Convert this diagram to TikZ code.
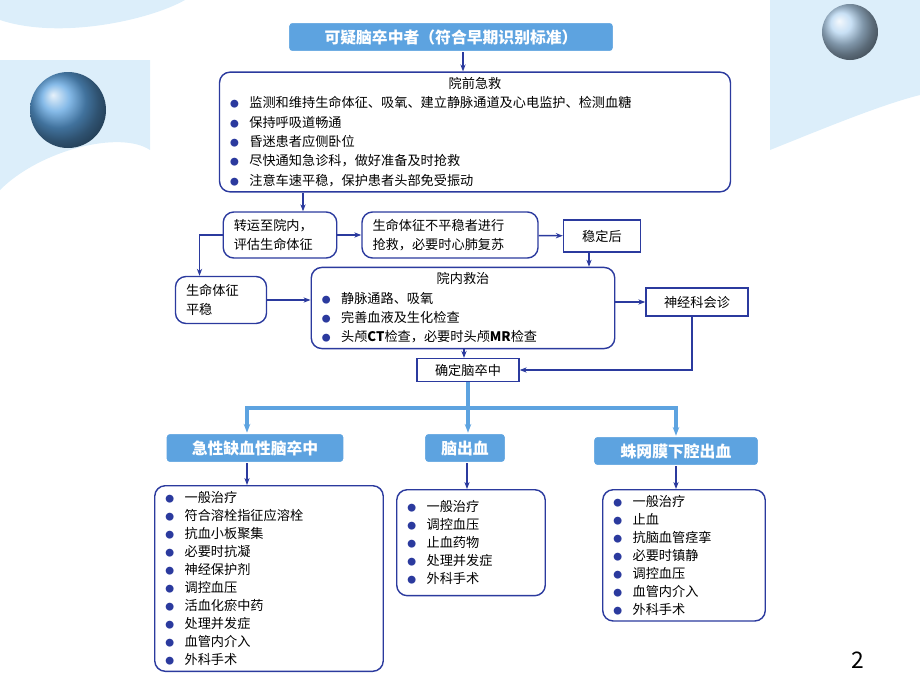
\documentclass[tikz,border=0pt]{standalone}
\usepackage{fontspec}
\setmainfont{Noto Sans CJK SC}
\usetikzlibrary{positioning,arrows.meta,calc}
\definecolor{navy}{HTML}{2B3A9E}
\definecolor{skyb}{HTML}{5DA3E0}
\definecolor{paleb}{HTML}{DCEEFA}
\newcommand{\itm}{{\color{navy}\tiny●}\hspace{0.8em}}
\tikzset{
    box/.style={rectangle, rounded corners=6pt, draw=navy, thick, fill=white, font=\fontsize{7.5}{11}\selectfont, align=left, inner xsep=6pt, inner ysep=3pt},
    sbox/.style={rectangle, draw=navy, thick, fill=white, font=\fontsize{7.5}{10.5}\selectfont, align=center, inner sep=3pt},
    head/.style={rectangle, rounded corners=2pt, fill=skyb, draw=white, thick, text=white, font=\bfseries\fontsize{9}{11}\selectfont, inner sep=4pt},
    line/.style={-{Stealth[length=4pt]}, navy, thick},
    bline/.style={-{Stealth[length=5pt]}, skyb, line width=2.2pt},
}
\begin{document}
\begin{tikzpicture}[x=0.02cm,y=-0.02cm]
    \useasboundingbox (0,0) rectangle (920,690);

    % Corner decoration
    \fill[paleb] (0,20) .. controls (60,40) and (150,20) .. (185,0) -- (0,0) -- cycle;
    \fill[paleb] (0,190) .. controls (40,150) and (120,130) .. (150,150) -- (150,60) -- (0,60) -- cycle;
    \fill[paleb] (770,150) .. controls (820,130) and (880,105) .. (920,95) -- (920,0) -- (770,0) -- cycle;
    \shade[ball color=skyb] (68,110) circle (38);
    \shade[ball color=skyb!45] (850,32) circle (28);

    % Top part
    \node[head, minimum width=6.5cm, minimum height=0.46cm] (start) at (451,37) {可疑脑卒中者（符合早期识别标准）};
    \node[box, text width=9.8cm, minimum height=2.22cm] (pre) at (475,132)
        {\makebox[\linewidth]{院前急救}\\
         \itm 监测和维持生命体征、吸氧、建立静脉通道及心电监护、检测血糖\\
         \itm 保持呼吸道畅通\\
         \itm 昏迷患者应侧卧位\\
         \itm 尽快通知急诊科，做好准备及时抢救\\
         \itm 注意车速平稳，保护患者头部免受振动};
    \node[box, text width=1.85cm, minimum height=0.92cm] (transfer) at (280,235) {转运至院内，\\评估生命体征};
    \node[box, text width=3.1cm, minimum height=0.92cm] (rescue) at (450,235) {生命体征不平稳者进行\\抢救，必要时心肺复苏};
    \node[sbox, minimum width=1.54cm, minimum height=0.64cm] (stable) at (602,236) {稳定后};
    \node[box, text width=1.4cm, minimum height=0.94cm] (vital) at (221,300) {生命体征\\平稳};
    \node[box, text width=5.65cm, minimum height=1.58cm] (inhosp) at (463,308)
        {\makebox[\linewidth]{院内救治}\\
         \itm 静脉通路、吸氧\\
         \itm 完善血液及生化检查\\
         \itm 头颅\textbf{CT}检查，必要时头颅\textbf{MR}检查};
    \node[sbox, minimum width=2.04cm, minimum height=0.56cm] (neuro) at (697,302) {神经科会诊};
    \node[sbox, minimum width=2.04cm, minimum height=0.4cm] (confirm) at (468,370) {确定脑卒中};

    % Three types
    \node[head, minimum width=3.56cm, minimum height=0.54cm] (isch) at (255,448) {急性缺血性脑卒中};
    \node[head, minimum width=1.62cm, minimum height=0.54cm] (ich) at (465,448) {脑出血};
    \node[head, minimum width=3.3cm, minimum height=0.58cm] (sah) at (676,451) {蛛网膜下腔出血};
    \node[box, font=\fontsize{7.5}{10.3}\selectfont, text width=4.15cm, minimum height=3.64cm, anchor=north] (treatA) at (269,485)
        {\itm 一般治疗\\ \itm 符合溶栓指征应溶栓\\ \itm 抗血小板聚集\\ \itm 必要时抗凝\\
         \itm 神经保护剂\\ \itm 调控血压\\ \itm 活血化瘀中药\\ \itm 处理并发症\\
         \itm 血管内介入\\ \itm 外科手术};
    \node[box, font=\fontsize{7.5}{10.3}\selectfont, text width=2.55cm, minimum height=2.12cm, anchor=north] (treatB) at (471,489)
        {\itm 一般治疗\\ \itm 调控血压\\ \itm 止血药物\\ \itm 处理并发症\\ \itm 外科手术\\[10pt]};
    \node[box, font=\fontsize{7.5}{10.3}\selectfont, text width=2.83cm, minimum height=2.58cm, anchor=north] (treatC) at (684,489)
        {\itm 一般治疗\\ \itm 止血\\ \itm 抗脑血管痉挛\\ \itm 必要时镇静\\
         \itm 调控血压\\ \itm 血管内介入\\ \itm 外科手术\\[6pt]};

    % Connectors
    \draw[line] (start.south -| 463,0) -- (463,0 |- pre.north);
    \draw[line] (pre.south -| 303,0) -- (303,0 |- transfer.north);
    \draw[line] (transfer) -- (rescue);
    \draw[line] (rescue) -- (stable);
    \draw[line] (stable.south -| 589,0) -- (589,0 |- inhosp.north);
    \draw[line] (transfer.west) -- ++(-23,0) coordinate (tl) -- (tl |- vital.north);
    \draw[line] (vital) -- (inhosp.west |- vital);
    \draw[line] (inhosp.east |- neuro) -- (neuro);
    \draw[line] (inhosp.south -| 464,0) -- (464,0 |- confirm.north);
    \draw[line] (neuro.south -| 692,0) -- (692,0 |- confirm) -- (confirm.east);
    \draw[line] (isch.south -| 247,0) -- (247,0 |- treatA.north);
    \draw[line] (ich.south -| 467,0) -- (467,0 |- treatB.north);
    \draw[line] (sah) -- (sah |- treatC.north);

    % Branch to stroke types
    \draw[skyb, line width=2.2pt] (confirm.south) -- (468,408) coordinate (br);
    \draw[bline] (br) -- (247,408) -- (247,0 |- isch.north);
    \draw[bline] (br) -- (ich.north -| br);
    \draw[bline] (br) -| (sah.north);

    \node[font=\fontsize{13}{13}\selectfont] (page) at (858,660) {2};
\end{tikzpicture}
\end{document}
